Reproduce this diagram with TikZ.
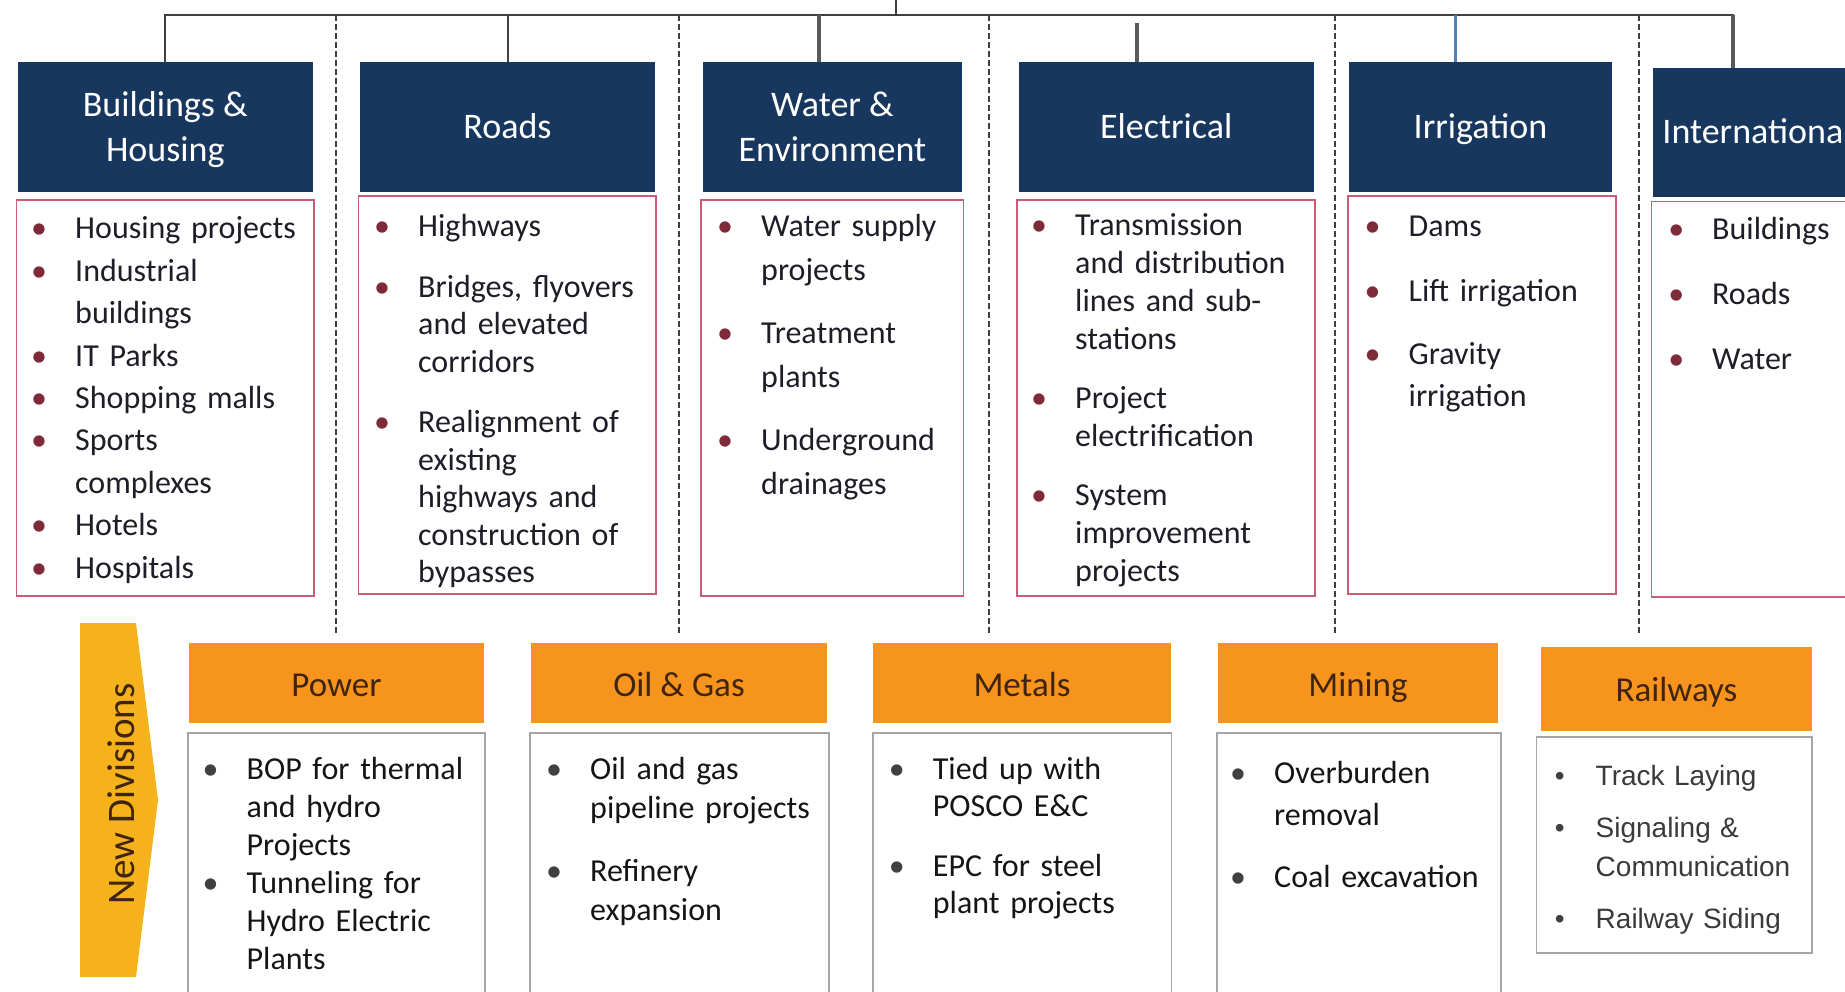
\documentclass[tikz,border=0pt]{standalone}
\usepackage{fontspec}
\setmainfont{Carlito}
\newfontfamily\railfont{Liberation Sans}
\definecolor{navy}{HTML}{17375E}
\definecolor{redb}{HTML}{CC5C74}
\definecolor{bulr}{HTML}{7E2A38}
\definecolor{bulg}{HTML}{404040}
\definecolor{orng}{HTML}{F7941D}
\definecolor{gold}{HTML}{F6B21B}
\definecolor{grayb}{HTML}{A6A6A6}
\definecolor{txtc}{HTML}{1E1E28}
\definecolor{btxt}{HTML}{151515}
\definecolor{rtxt}{HTML}{3A3A3A}
\definecolor{brn}{HTML}{3F2410}
\definecolor{linec}{HTML}{404040}
\definecolor{thickc}{HTML}{5A5A5A}
\definecolor{bluec}{HTML}{4F81BD}
\newcommand\bitem{\leavevmode\llap{\makebox[0pt][c]{\textcolor{bulr}{•}}\hspace{36pt}}}
\newcommand\gitem{\leavevmode\llap{\makebox[0pt][c]{\textcolor{bulg}{•}}\hspace{36pt}}}
\begin{document}
\begin{tikzpicture}[x=1pt,y=-1pt,
  hdr/.style={fill=navy,text=white,inner sep=0pt,align=center,font=\fontsize{36}{45}\selectfont},
  one/.style={text height=23pt,text depth=0pt},
  lst/.style={draw=redb,line width=1.5pt,fill=white,inner sep=0pt},
  ohdr/.style={fill=orng,text=brn,inner sep=0pt,font=\fontsize{35}{44}\selectfont,one},
  olst/.style={draw=grayb,line width=1.5pt,fill=white,inner sep=0pt},
  txt/.style={anchor=base west,inner sep=0pt,text width=320pt,align=left,text=txtc},
  btx/.style={txt,text=btxt},
  divline/.style={line width=1.5pt,dash pattern=on 6pt off 3pt,color=linec},
  busl/.style={line width=2pt,color=linec},
  dropthin/.style={line width=2pt,color=linec},
  dropthick/.style={line width=4pt,color=thickc},
  dropblue/.style={line width=3pt,color=bluec}]
\clip (0,0) rectangle (1845,992);
\fill[white] (0,0) rectangle (1845,992);

% dashed separators
\foreach \xx in {336,679,989,1335,1639}
  \draw[divline] (\xx,15) -- (\xx,635);

% top headers
\node[hdr,minimum width=295.4pt,minimum height=130.5pt] (h1) at (165.3,127.25) {};
\node[hdr,anchor=base,fill=none] (h1t) at (165.3,162) {Buildings \&\\Housing};
\node[hdr,one,minimum width=295pt,minimum height=130pt] (h2) at (507.5,127) {Roads};
\node[hdr,minimum width=259.8pt,minimum height=130pt] (h3) at (832.4,127) {};
\node[hdr,anchor=base,fill=none] (h3t) at (832.4,162) {Water \&\\Environment};
\node[hdr,one,minimum width=294.5pt,minimum height=130pt] (h4) at (1166.25,127) {Electrical};
\node[hdr,one,minimum width=263pt,minimum height=130pt] (h5) at (1480.5,127) {Irrigation};
\node[hdr,one,minimum width=208pt,minimum height=129pt] (h6) at (1757,132.5) {International};

% connectors
\coordinate (root) at (896,0);
\coordinate (bus) at (0,15);
\draw[busl] (root) -- (root|-bus);
\draw[busl] (h1.north) -- (h1.north|-bus) -- ([xshift=-24pt]h6.north|-bus) -- ([xshift=-24pt]h6.north);
\draw[dropthin] (h2.north|-bus) -- (h2.north);
\draw[dropthick] ([xshift=-13.5pt]h3.north|-bus) -- ([xshift=-13.5pt]h3.north);
\draw[dropthick] ([xshift=-29pt]h4.north) -- ([xshift=-29pt,yshift=-8pt]h4.north|-bus);
\draw[dropblue] ([xshift=-25.5pt]h5.north|-bus) -- ([xshift=-25.5pt]h5.north);
\draw[dropthick] ([xshift=-24pt]h6.north|-bus) -- ([xshift=-24pt]h6.north);

% top lists
\node[lst,minimum width=297.6pt,minimum height=396pt] (l1) at (165.2,398) {};
\node[lst,minimum width=297.5pt,minimum height=398pt] (l2) at (507.25,395) {};
\node[lst,minimum width=262.3pt,minimum height=396pt] (l3) at (832.15,398) {};
\node[lst,minimum width=298pt,minimum height=396pt] (l4) at (1166,398) {};
\node[lst,minimum width=268pt,minimum height=398pt] (l5) at (1482,395) {};
\node[lst,minimum width=248.5pt,minimum height=395.5pt] (l6) at (1775.75,399.25) {};

\node[txt,font=\fontsize{32}{42.4}\selectfont] (t1) at (75,239)
 {\bitem Housing projects\\\bitem Industrial\\buildings\\\bitem IT Parks\\\bitem Shopping malls\\\bitem Sports\\complexes\\\bitem Hotels\\\bitem Hospitals};
\node[txt,font=\fontsize{32}{37.5}\selectfont] (t2) at (418,237)
 {\bitem Highways\\[23pt]\bitem Bridges, flyovers\\and elevated\\corridors\\[23pt]\bitem Realignment of\\existing\\highways and\\construction of\\bypasses};
\node[txt,font=\fontsize{32}{44}\selectfont] (t3) at (761,237)
 {\bitem Water supply\\projects\\[19pt]\bitem Treatment\\plants\\[19pt]\bitem Underground\\drainages};
\node[txt,font=\fontsize{32}{38}\selectfont] (t4) at (1075,236)
 {\bitem Transmission\\and distribution\\lines and sub-\\stations\\[21pt]\bitem Project\\electrification\\[21pt]\bitem System\\improvement\\projects};
\node[txt,font=\fontsize{32}{41.5}\selectfont] (t5) at (1408.5,237)
 {\bitem Dams\\[23pt]\bitem Lift irrigation\\[22pt]\bitem Gravity\\irrigation};
\node[txt,font=\fontsize{32}{42}\selectfont] (t6) at (1712,240)
 {\bitem Buildings\\[23pt]\bitem Roads\\[23pt]\bitem Water};

% New Divisions arrow
\fill[gold] (80,623) -- (136,623) -- (158,800) -- (136,977) -- (80,977) -- cycle;
\node[rotate=90,text=brn,inner sep=0pt,font=\fontsize{39}{39}\selectfont] (nd) at (121,794) {New Divisions};

% bottom headers
\node[ohdr,minimum width=295pt,minimum height=80pt] (o1) at (336.5,683) {};
\node[ohdr,minimum width=296pt,minimum height=80pt] (o2) at (679,683) {};
\node[ohdr,minimum width=297.4pt,minimum height=80pt] (o3) at (1022,683) {};
\node[ohdr,minimum width=280pt,minimum height=80pt] (o4) at (1358,683) {};
\node[ohdr,minimum width=271pt,minimum height=84pt] (o5) at (1676.5,689) {};
\node[ohdr,fill=none,anchor=base] (o1t) at (336.5,696.5) {Power};
\node[ohdr,fill=none,anchor=base] (o2t) at (679,696.5) {Oil \& Gas};
\node[ohdr,fill=none,anchor=base] (o3t) at (1022,696.5) {Metals};
\node[ohdr,fill=none,anchor=base] (o4t) at (1358,696.5) {Mining};
\node[ohdr,fill=none,anchor=base] (o5t) at (1676.5,701.5) {Railways};

% bottom lists
\node[olst,minimum width=297pt,minimum height=277pt] (b1) at (336.5,871.5) {};
\node[olst,minimum width=299pt,minimum height=277pt] (b2) at (679.5,871.5) {};
\node[olst,minimum width=298.5pt,minimum height=277pt] (b3) at (1022.25,871.5) {};
\node[olst,minimum width=284pt,minimum height=277pt] (b4) at (1359,871.5) {};
\node[olst,minimum width=275.5pt,minimum height=216pt] (b5) at (1674.25,845) {};

\node[btx,font=\fontsize{32}{38}\selectfont] (u1) at (246.5,779)
 {\gitem BOP for thermal\\and hydro\\Projects\\\gitem Tunneling for\\Hydro Electric\\Plants};
\node[btx,font=\fontsize{32}{39.5}\selectfont] (u2) at (590,779)
 {\gitem Oil and gas\\pipeline projects\\[23pt]\gitem Refinery\\expansion};
\node[btx,font=\fontsize{32}{37.5}\selectfont] (u3) at (932.7,779)
 {\gitem Tied up with\\POSCO E\&C\\[22pt]\gitem EPC for steel\\plant projects};
\node[btx,font=\fontsize{32}{42}\selectfont] (u4) at (1274,783)
 {\gitem Overburden\\removal\\[20pt]\gitem Coal excavation};
\node[txt,text=rtxt,font=\railfont\fontsize{28}{39}\selectfont] (u5) at (1595.5,785)
 {\gitem Track Laying\\[13pt]\gitem Signaling \&\\Communication\\[13pt]\gitem Railway Siding};
\end{tikzpicture}
\end{document}
